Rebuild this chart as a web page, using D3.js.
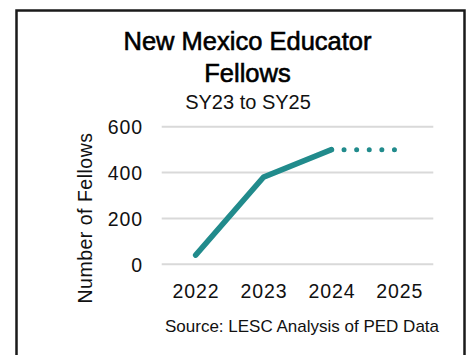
<!DOCTYPE html>
<html>
<head>
<meta charset="utf-8">
<script src="https://cdn.jsdelivr.net/npm/d3@7"></script>
<style>
  html, body { margin: 0; padding: 0; background: #fff; }
  svg { display: block; font-family: "Liberation Sans", Arial, sans-serif; }
</style>
</head>
<body>
<svg id="chart" width="469" height="355"></svg>
<script>
const years = ["2022", "2023", "2024", "2025"];
const actualValues = [40, 380, 500, null];
const projectedValues = [null, null, 500, 500];
const yTicks = [0, 200, 400, 600];
const titleLines = ["New Mexico Educator", "Fellows"];
const subtitle = "SY23 to SY25";
const yAxisTitle = "Number of Fellows";
const sourceNote = "Source: LESC Analysis of PED Data";

const svg = d3.select("#chart");
const teal = "#218b8c";

// frame
svg.append("rect")
  .attr("x", 16.5).attr("y", 10.5)
  .attr("width", 448).attr("height", 360)
  .attr("fill", "#fff").attr("stroke", "#1a1a1a").attr("stroke-width", 2.5);

// titles
svg.append("text").attr("x", 247.5).attr("y", 50).attr("text-anchor", "middle")
  .attr("font-size", 25.5).attr("fill", "#000").attr("stroke", "#000").attr("stroke-width", 0.6)
  .text(titleLines[0]);
svg.append("text").attr("x", 247.5).attr("y", 81.5).attr("text-anchor", "middle")
  .attr("font-size", 25.5).attr("fill", "#000").attr("stroke", "#000").attr("stroke-width", 0.6)
  .text(titleLines[1]);
svg.append("text").attr("x", 248).attr("y", 109).attr("text-anchor", "middle")
  .attr("font-size", 20).attr("fill", "#111")
  .text(subtitle);

const x = d3.scaleBand().domain(years).range([161.7, 433.3]);
const y = d3.scaleLinear().domain([0, 600]).range([264.3, 126.7]);

// gridlines
svg.append("g").selectAll("line").data(yTicks).join("line")
  .attr("x1", 161.7).attr("x2", 433.3)
  .attr("y1", d => y(d)).attr("y2", d => y(d))
  .attr("stroke", "#d9d9d9").attr("stroke-width", 2);

// y axis labels
const yAxis = d3.axisLeft(y).tickValues(yTicks).tickSize(0).tickPadding(0).tickFormat(d3.format("d"));
const gy = svg.append("g").attr("transform", "translate(142,0)").call(yAxis);
gy.select(".domain").remove();
gy.selectAll("text").attr("font-size", 19.5).attr("letter-spacing", "0.9px")
  .attr("font-family", "Liberation Sans, Arial, sans-serif").attr("fill", "#111")
  .attr("dy", "0.36em").attr("dx", "0.9px");

// x axis labels
const xAxis = d3.axisBottom(x).tickSize(0).tickPadding(0);
const gx = svg.append("g").attr("transform", "translate(0,283.5)").call(xAxis);
gx.select(".domain").remove();
gx.selectAll("text").attr("font-size", 19.5).attr("letter-spacing", "0.9px")
  .attr("font-family", "Liberation Sans, Arial, sans-serif").attr("fill", "#111")
  .attr("dy", "0.72em").attr("dx", "0.45px");

// y axis title
svg.append("text")
  .attr("transform", "translate(91.5,218) rotate(-90)")
  .attr("text-anchor", "middle").attr("font-size", 19.5).attr("letter-spacing", "0.5px")
  .attr("fill", "#111").text(yAxisTitle);

const cx = d => x(d) + x.bandwidth() / 2;

// projected dotted line
const lineProj = d3.line().defined(d => d.v !== null).x(d => cx(d.year)).y(d => y(d.v));
svg.append("path")
  .datum(years.map((yr, i) => ({ year: yr, v: projectedValues[i] })))
  .attr("d", lineProj).attr("fill", "none").attr("stroke", teal)
  .attr("stroke-width", 5).attr("stroke-linecap", "round")
  .attr("stroke-dasharray", "0,12.6");

// actual line
svg.append("path")
  .datum(years.map((yr, i) => ({ year: yr, v: actualValues[i] })))
  .attr("d", lineProj).attr("fill", "none").attr("stroke", teal)
  .attr("stroke-width", 5.5).attr("stroke-linecap", "round").attr("stroke-linejoin", "round");

// source
svg.append("text").attr("x", 165).attr("y", 332)
  .attr("font-size", 17).attr("fill", "#111").text(sourceNote);
</script>
</body>
</html>
